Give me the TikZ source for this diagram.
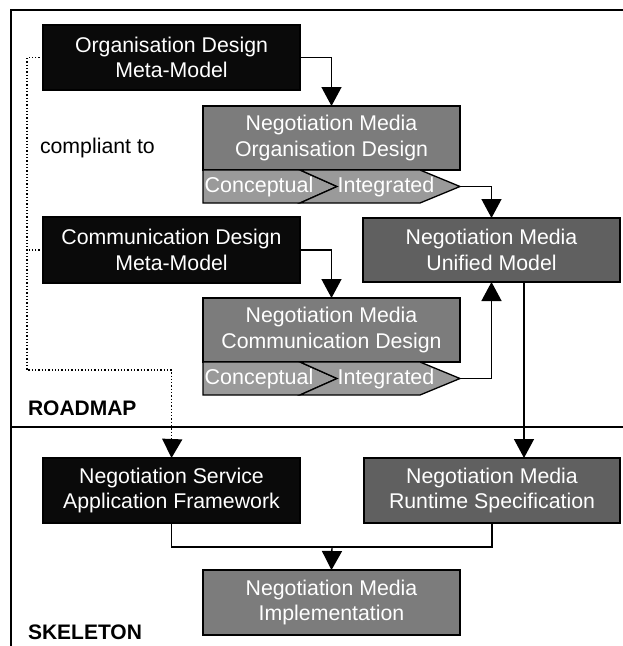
\documentclass[tikz,border=0pt]{standalone}
\usepackage{fontspec}
\setmainfont{Liberation Sans}
\usetikzlibrary{arrows.meta}

\definecolor{boxblack}{HTML}{0A0A0A}
\definecolor{boxgrey}{HTML}{7C7C7C}
\definecolor{boxdark}{HTML}{606060}
\definecolor{chevgrey}{HTML}{9A9A9A}

\tikzset{
  every node/.style={inner sep=0pt, outer sep=0pt},
  stagebox/.style={draw=black, line width=1.3pt, text=white, align=center,
    font=\fontsize{21.3}{25.5}\selectfont, minimum width=257pt},
  metabox/.style={stagebox, fill=boxblack, draw=black},
  designbox/.style={stagebox, fill=boxgrey},
  modelbox/.style={stagebox, fill=boxdark},
  chevron/.style={draw=black, line width=1.3pt, fill=chevgrey},
  chevlabel/.style={text=white, font=\fontsize{21.5}{25}\selectfont},
  flow/.style={draw=black, line width=1.4pt, -{Triangle[length=19pt,width=20pt]}},
  plain/.style={draw=black, line width=1.4pt},
  compliance/.style={draw=black, line width=1.3pt, dotted},
  frame/.style={draw=black, line width=1.8pt},
  phase/.style={font=\bfseries\fontsize{21}{24}\selectfont, anchor=west},
}

\begin{document}
\begin{tikzpicture}[x=1pt, y=-1pt]
  \useasboundingbox (0,0) rectangle (623,646);

  % frame and phase divider
  \draw[frame] (623,10) -- (11,10) -- (11,646);
  \draw[frame] (11,427) -- (623,427);
  \node[phase] (roadmap) at (28,408) {ROADMAP};
  \node[phase] (skeleton) at (28,632) {SKELETON};

  % meta-models
  \node[metabox, minimum height=65pt] (odmm) at (171.5,57.5) {Organisation Design\\Meta-Model};
  \node[metabox, minimum height=66pt] (cdmm) at (171.5,250) {Communication Design\\Meta-Model};

  % design boxes
  \node[designbox, minimum height=64pt] (nmod) at (331.5,138) {Negotiation Media\\Organisation Design};
  \node[designbox, minimum height=64pt] (nmcd) at (331.5,330) {Negotiation Media\\Communication Design};

  % conceptual / integrated chevrons below each design box
  \coordinate (otip) at (460,186.5);
  \draw[chevron] (203,170) -- (300,170) -- (337,186.5) -- (300,203) -- (203,203) -- cycle;
  \draw[chevron] (300,170) -- (420,170) -- (otip) -- (420,203) -- (300,203) -- (337,186.5) -- cycle;
  \node[chevlabel] (oconc) at (259,187) {Conceptual};
  \node[chevlabel] (ointg) at (386,187) {Integrated};

  \coordinate (ctip) at (460,378.5);
  \draw[chevron] (203,362) -- (300,362) -- (337,378.5) -- (300,395) -- (203,395) -- cycle;
  \draw[chevron] (300,362) -- (420,362) -- (ctip) -- (420,395) -- (300,395) -- (337,378.5) -- cycle;
  \node[chevlabel] (cconc) at (259,379) {Conceptual};
  \node[chevlabel] (cintg) at (386,379) {Integrated};

  % unified model
  \node[modelbox, minimum height=64pt] (unified) at (491.5,250) {Negotiation Media\\Unified Model};

  % skeleton boxes
  \node[metabox, minimum height=65pt] (nsaf) at (171.5,490.5) {Negotiation Service\\Application Framework};
  \node[modelbox, minimum height=65pt, minimum width=256pt] (runtime) at (492,490.5) {Negotiation Media\\Runtime Specification};
  \node[designbox, minimum height=65pt] (impl) at (331.5,602.5) {Negotiation Media\\Implementation};

  \node[anchor=west, font=\fontsize{21.3}{25}\selectfont] (compl) at (40,148) {compliant to};

  % flows
  \draw[flow] (odmm.east) -| (nmod.north);
  \draw[flow] (cdmm.east) -| (nmcd.north);
  \draw[flow] (otip) -| (unified.north);
  \draw[flow] (ctip) -| (unified.south);
  \draw[flow] (unified.south -| 524,0) -- (runtime.north -| 524,0);

  \coordinate (join) at (332,547);
  \draw[plain] (nsaf.south) |- (join);
  \draw[plain] (runtime.south) |- (join);
  \draw[flow] (join) -- (impl.north);

  % compliance relation
  \coordinate (cl) at (27,370);
  \draw[compliance] (odmm.west) -- (27,57.5) -- (cl) -| ([yshift=-1pt]nsaf.north);
  \draw[compliance] (cdmm.west) -- (27,250);
  \draw[flow, dotted] (172,445) -- (nsaf.north);
\end{tikzpicture}
\end{document}
